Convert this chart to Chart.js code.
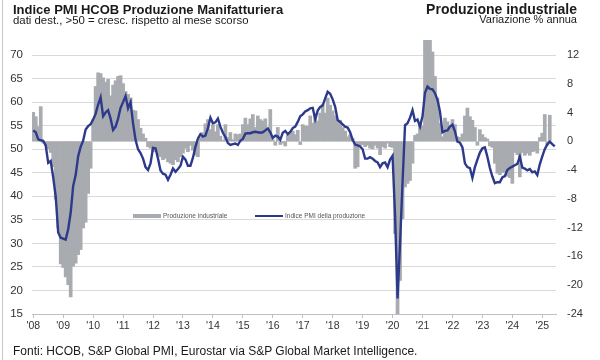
<!DOCTYPE html>
<html>
<head>
<meta charset="utf-8">
<script src="https://cdn.jsdelivr.net/npm/chart.js@4/dist/chart.umd.min.js"></script>
<style>
  html, body { margin: 0; padding: 0; background: #fff; }
  #wrap { position: relative; width: 600px; height: 360px; overflow: hidden;
          font-family: "Liberation Sans", Arial, sans-serif; color: #1a1a1a; }
  #wrap canvas { position: absolute; left: 0; top: 0; }
  .txt { position: absolute; line-height: 1; white-space: nowrap; }
  .bold { font-weight: bold; }
  .right { text-align: right; }
  #bordo { position: absolute; left: 2px; top: 0; width: 1px; height: 360px; background: #c8c8c8; }
  .leg-txt { position: absolute; font-size: 6.5px; line-height: 1; color: #555; white-space: nowrap; }
</style>
</head>
<body>
<div id="wrap">
  <canvas id="pmiChart" width="600" height="360"></canvas>
  <div id="bordo"></div>
  <div class="txt bold" style="left:13px; top:3px; font-size:13px;">Indice PMI HCOB Produzione Manifatturiera</div>
  <div class="txt" style="left:13px; top:15px; font-size:11.4px;">dati dest., &gt;50 = cresc. rispetto al mese scorso</div>
  <div class="txt bold right" style="right:23px; top:2px; font-size:14px;">Produzione industriale</div>
  <div class="txt right" style="right:23px; top:14px; font-size:11px;">Variazione % annua</div>

  <div style="position:absolute; left:133px; top:214px; width:28px; height:4px; background:#a8abaf;"></div>
  <div class="leg-txt" style="left:163px; top:213px;">Produzione industriale</div>
  <div style="position:absolute; left:255px; top:215px; width:28px; height:2px; background:#2d3a8c;"></div>
  <div class="leg-txt" style="left:285px; top:213px;">Indice PMI della produzione</div>

  <div class="txt" style="left:13px; top:345px; font-size:12px;">Fonti: HCOB, S&amp;P Global PMI, Eurostar via S&amp;P Global Market Intelligence.</div>
</div>
<script>
// etichette dell'asse x (una per anno, a gennaio)
const anni = ["'08", "'09", "'10", "'11", "'12", "'13", "'14", "'15", "'16",
              "'17", "'18", "'19", "'20", "'21", "'22", "'23", "'24", "'25"];

// Indice PMI della produzione, mensile da gen 2008 (asse sinistro)
const pmi = [
    54.0, 53.6, 52.1, 51.9, 51.8, 50.8, 47.1, 47.5, 44.0, 40.0, 32.3, 31.2, // 2008
    31.0, 30.8, 33.0, 36.5, 42.2, 44.5, 48.5, 50.5, 51.8, 54.2, 54.9, 55.3, // 2009
    56.3, 57.5, 59.5, 61.0, 57.0, 57.8, 58.3, 56.5, 54.1, 54.8, 56.5, 58.8, // 2010
    60.0, 61.3, 58.7, 60.0, 55.5, 52.0, 50.0, 49.2, 48.0, 46.2, 45.6, 47.0, // 2011
    50.3, 50.2, 48.0, 45.5, 44.8, 44.6, 43.5, 44.6, 45.9, 45.2, 45.8, 46.5, // 2012
    48.4, 47.8, 46.5, 46.5, 48.2, 50.5, 52.3, 53.2, 52.7, 52.9, 54.5, 56.7, // 2013
    55.5, 55.7, 56.5, 54.8, 53.5, 52.6, 51.3, 50.9, 51.1, 51.2, 50.9, 51.8, // 2014
    52.2, 53.3, 53.4, 53.4, 53.6, 53.7, 53.6, 53.5, 53.6, 54.0, 54.4, 53.6, // 2015
    52.4, 52.9, 52.7, 52.0, 53.5, 53.9, 53.2, 53.7, 54.5, 54.8, 55.8, 57.0, // 2016
    57.4, 58.0, 58.3, 58.7, 58.8, 56.4, 58.2, 59.0, 59.3, 60.8, 62.2, 61.8, // 2017
    60.6, 59.0, 56.2, 55.8, 55.3, 54.8, 54.6, 53.6, 52.0, 51.0, 50.8, 50.6, // 2018
    50.0, 48.0, 48.0, 48.3, 48.0, 47.5, 47.2, 46.2, 47.0, 47.2, 46.2, 47.8, // 2019
    48.6, 36.0, 18.3, 30.0, 43.0, 55.1, 55.5, 56.7, 58.3, 56.0, 56.3, 54.8, // 2020
    57.0, 62.0, 63.3, 62.8, 62.7, 61.9, 60.5, 58.0, 53.6, 53.9, 54.0, 54.8, // 2021
    55.2, 53.8, 51.6, 51.4, 50.4, 47.0, 46.2, 46.0, 43.9, 46.2, 47.8, 49.3, // 2022
    50.2, 50.4, 48.4, 46.0, 44.2, 42.8, 43.0, 43.0, 44.0, 44.3, 45.6, 46.0, // 2023
    46.3, 46.6, 46.9, 48.4, 46.1, 45.9, 45.5, 45.8, 45.1, 45.3, 44.5, 46.8, // 2024
    48.5, 50.0, 51.0, 51.6, 51.1, 50.6                                      // 2025
];

// Produzione industriale, variazione % annua (asse destro)
const produzione = [
    4.0, 3.4, 2.0, 4.8, -0.2, -0.5, -1.0, -1.5, -3.5, -8.0, -12.0, -17.0,          // 2008
    -17.5, -18.8, -19.9, -21.6, -17.3, -16.9, -15.7, -15.0, -12.0, -11.2, -7.2, -3.7, // 2009
    3.0, 7.6, 9.5, 9.4, 8.8, 8.2, 8.6, 6.3, 7.8, 8.4, 9.0, 9.1,                    // 2010
    8.0, 6.9, 6.5, 6.0, 4.3, 4.2, 3.0, 1.8, 1.0, 0.4, -0.7, -0.9,                  // 2011
    -1.4, -0.7, -1.9, -2.1, -2.5, -2.3, -2.8, -3.0, -3.2, -2.5, -2.8, -2.1,        // 2012
    -1.6, -0.9, -1.4, -0.5, -1.2, -1.9, -2.1, 0.5, 1.2, 2.4, 3.0, 1.6,             // 2013
    2.3, 1.3, 2.3, 0.7, 0.1, 2.3, 0.5, 1.2, 0.2, 1.0, 0.9, 1.0,                    // 2014
    2.3, 3.2, 2.3, 3.1, 3.7, 1.9, 3.5, 3.0, 2.8, 3.1, 1.4, 4.4,                    // 2015
    0.2, -0.5, 1.9, -0.4, -0.2, -0.6, 0.8, 1.2, 1.4, 0.9, 1.5, -0.4,               // 2016
    2.3, 2.1, 2.1, 3.5, 2.5, 3.7, 2.8, 3.9, 5.1, 3.9, 6.0, 5.0,                    // 2017
    4.2, 3.5, 2.8, 2.9, 1.9, 1.4, 0.6, 0.9, 0.4, -3.7, -3.5, -0.5,                 // 2018
    -0.4, -0.7, -0.5, -0.9, -1.0, -0.5, -0.9, -1.8, -0.7, -0.9, -0.2, -0.7,        // 2019
    -0.8, -12.8, -28.0, -19.3, -10.7, -6.3, -5.8, -5.4, -3.0, 0.8, 1.0, 2.4,       // 2020
    2.1, 16.0, 16.0, 15.0, 12.4, 9.0, 6.0, 2.5, 0.6, 3.2, 2.7, 1.8,                // 2021
    3.0, 2.3, 0.6, 0.5, 1.0, 3.5, 4.6, 3.4, 2.9, 1.9, -0.5, 1.6,                   // 2022
    0.9, 0.5, 0.3, -0.6, -0.8, -3.0, -4.4, -4.6, -4.3, -4.2, -4.8, -5.0,           // 2023
    -5.8, -1.5, -1.8, -4.9, -1.5, -1.9, -1.6, -1.9, -1.4, -1.3, -1.6, 0.5,         // 2024
    1.1, 3.7, -0.5, 3.6, null, null                                               // 2025
];

// categorie mensili: una per ogni valore del PMI
const mesi = pmi.map((v, i) => anni[Math.floor(i / 12)] + '-' + (i % 12 + 1));

const ctx = document.getElementById('pmiChart').getContext('2d');
new Chart(ctx, {
    type: 'bar',
    data: {
        labels: mesi,
        datasets: [{
            type: 'line',
            label: 'Indice PMI della produzione',
            data: pmi,
            borderColor: '#2d3a8c',
            borderWidth: 2.4,
            pointRadius: 0,
            tension: 0,
            yAxisID: 'y',
            order: 0
        }, {
            type: 'bar',
            label: 'Produzione industriale',
            data: produzione,
            backgroundColor: '#a8abaf',
            barPercentage: 1,
            categoryPercentage: 1,
            inflateAmount: 0.6,
            yAxisID: 'y1',
            order: 1
        }]
    },
    options: {
        responsive: false,
        animation: false,
        layout: { padding: { top: 40, left: 0, right: 0, bottom: 0 } },
        plugins: {
            legend: { display: false },
            tooltip: { enabled: false }
        },
        scales: {
            x: {
                offset: true,
                grid: { drawOnChartArea: false, drawTicks: true, tickLength: 4, tickColor: '#bfbfbf', offset: false },
                border: { color: '#bfbfbf' },
                ticks: {
                    autoSkip: false,
                    maxRotation: 0,
                    padding: 2,
                    color: '#333',
                    font: { family: 'Liberation Sans', size: 10.5 },
                    callback: v => anni[Math.round(v / 12)]
                },
                afterBuildTicks: s => { s.ticks = s.ticks.filter(t => t.value % 12 === 0); },
                afterFit: s => { s.height = 46; }
            },
            y: {
                position: 'left',
                min: 15,
                max: 73.2,
                ticks: { stepSize: 5, includeBounds: false, padding: 9, color: '#333',
                         font: { family: 'Liberation Sans', size: 11.5 } },
                grid: { color: '#d9d9d9', drawTicks: false },
                border: { display: false },
                afterFit: s => { s.width = 32; }
            },
            y1: {
                position: 'right',
                min: -24,
                max: 14.1,
                ticks: { stepSize: 4, includeBounds: false, padding: 11, color: '#333',
                         font: { family: 'Liberation Sans', size: 11 } },
                grid: { drawOnChartArea: false, drawTicks: false },
                border: { display: false },
                afterFit: s => { s.width = 44; }
            }
        }
    }
});
</script>
</body>
</html>
